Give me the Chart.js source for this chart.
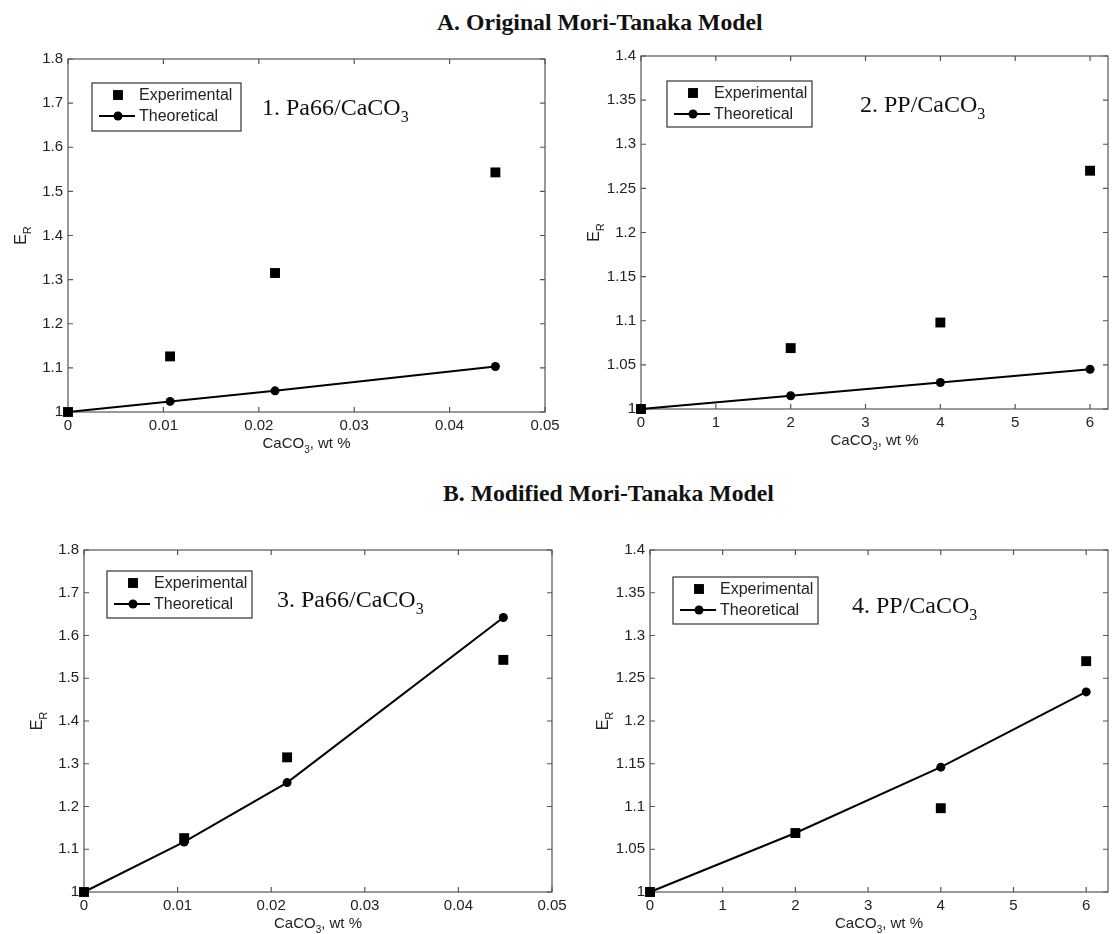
<!DOCTYPE html>
<html>
<head>
<meta charset="utf-8">
<script src="https://cdn.jsdelivr.net/npm/chart.js@4.4.1/dist/chart.umd.min.js"></script>
<style>
  html, body { margin: 0; padding: 0; background: #fff; overflow: hidden; width: 1115px; height: 934px; }
  .title { position: absolute; font-family: "Liberation Serif", "DejaVu Serif", serif; font-weight: bold; font-size: 23.7px; line-height: 24px; color: #111; white-space: nowrap; }
  canvas { position: absolute; }
</style>
</head>
<body>
<div class="title" style="left:437px; top:10px;">A. Original Mori-Tanaka Model</div>
<div class="title" style="left:443px; top:481px;">B. Modified Mori-Tanaka Model</div>
<canvas id="c1" width="557" height="413" style="left:8px; top:44px;"></canvas>
<canvas id="c2" width="534" height="413" style="left:581px; top:41px;"></canvas>
<canvas id="c3" width="548" height="402" style="left:24px; top:535px;"></canvas>
<canvas id="c4" width="525" height="402" style="left:590px; top:535px;"></canvas>
<script>
// du lieu doc tu hinh
const wtPa66 = [0, 0.0107, 0.0217, 0.0448];
const wtPP = [0, 2, 4, 6];
const expPa66 = [1.0, 1.126, 1.315, 1.543];
const expPP = [1.0, 1.069, 1.098, 1.270];
const theoOrigPa66 = [1.0, 1.024, 1.048, 1.103];
const theoOrigPP = [1.0, 1.015, 1.030, 1.045];
const theoModPa66 = [1.0, 1.117, 1.256, 1.642];
const theoModPP = [1.0, 1.069, 1.146, 1.234];

const xTicksPa66 = [0, 0.01, 0.02, 0.03, 0.04, 0.05];
const xTicksPP = [0, 1, 2, 3, 4, 5, 6];
const yTicksPa66 = [1, 1.1, 1.2, 1.3, 1.4, 1.5, 1.6, 1.7, 1.8];
const yTicksPP = [1, 1.05, 1.1, 1.15, 1.2, 1.25, 1.3, 1.35, 1.4];

const SANS = '"Liberation Sans", Arial, sans-serif';
const SERIF = '"Liberation Serif", "Times New Roman", serif';
const FRAME_COLOR = '#555';
const TEXT_COLOR = '#222';

// ve chuoi co chi so duoi (CaCO3, E_R)
function drawParts(ctx, parts, x, y, size, align) {
    const subSize = Math.round(size * 0.68);
    let total = 0;
    parts.forEach(p => {
        ctx.font = (p.sub ? subSize : size) + 'px ' + p.family;
        total += ctx.measureText(p.t).width;
    });
    let cx = align === 'center' ? x - total / 2 : x;
    ctx.textAlign = 'left';
    ctx.textBaseline = 'alphabetic';
    parts.forEach(p => {
        ctx.font = (p.sub ? subSize : size) + 'px ' + p.family;
        ctx.fillText(p.t, cx, y + (p.sub ? size * 0.3 : 0));
        cx += ctx.measureText(p.t).width;
    });
}

const framePlugin = {
    id: 'frame',
    beforeDatasetsDraw(chart) {
        const { ctx, chartArea: a, scales } = chart;
        ctx.save();
        ctx.strokeStyle = FRAME_COLOR;
        ctx.lineWidth = 1.2;
        ctx.strokeRect(a.left, a.top, a.right - a.left, a.bottom - a.top);
        // vach chia huong vao trong
        ctx.beginPath();
        scales.x.ticks.forEach(t => {
            const px = scales.x.getPixelForValue(t.value);
            ctx.moveTo(px, a.bottom); ctx.lineTo(px, a.bottom - 5);
            ctx.moveTo(px, a.top); ctx.lineTo(px, a.top + 5);
        });
        scales.y.ticks.forEach(t => {
            const py = scales.y.getPixelForValue(t.value);
            ctx.moveTo(a.left, py); ctx.lineTo(a.left + 5, py);
            ctx.moveTo(a.right, py); ctx.lineTo(a.right - 5, py);
        });
        ctx.stroke();
        ctx.restore();
    },
    afterDraw(chart, args, opts) {
        const { ctx, chartArea: a } = chart;
        ctx.save();
        ctx.fillStyle = TEXT_COLOR;
        // tieu de truc
        drawParts(ctx, [{ t: 'CaCO', family: SANS }, { t: '3', sub: true, family: SANS }, { t: ', wt %', family: SANS }],
            (a.left + a.right) / 2, a.bottom + 36, 15, 'center');
        ctx.save();
        ctx.translate(a.left - 42, (a.top + a.bottom) / 2);
        ctx.rotate(-Math.PI / 2);
        drawParts(ctx, [{ t: 'E', family: SANS }, { t: 'R', sub: true, family: SANS }], 0, 0, 16, 'center');
        ctx.restore();

        // chu thich trong vung ve
        const lg = opts.legend;
        const bx = a.left + lg.dx, by = a.top + lg.dy;
        ctx.fillStyle = '#fff';
        ctx.fillRect(bx, by, lg.w, lg.h);
        ctx.strokeStyle = '#333';
        ctx.lineWidth = 1.2;
        ctx.strokeRect(bx, by, lg.w, lg.h);
        chart.data.datasets.forEach((ds, i) => {
            const rowY = by + (i === 0 ? 12 : 33);
            ctx.fillStyle = '#000';
            ctx.strokeStyle = '#000';
            if (ds.showLine) {
                ctx.lineWidth = 2;
                ctx.beginPath();
                ctx.moveTo(bx + 7, rowY); ctx.lineTo(bx + 43, rowY);
                ctx.stroke();
            }
            Chart.helpers.drawPoint(ctx, { pointStyle: ds.pointStyle, radius: ds.pointRadius, borderWidth: 0 }, bx + 26, rowY);
            ctx.fillStyle = TEXT_COLOR;
            ctx.font = '16px ' + SANS;
            ctx.textAlign = 'left';
            ctx.textBaseline = 'middle';
            ctx.fillText(ds.label, bx + 47, rowY + 1);
        });

        // nhan ten mau
        const nt = opts.note;
        ctx.fillStyle = '#111';
        drawParts(ctx, [{ t: nt.text, family: SERIF }, { t: '3', sub: true, family: SERIF }],
            a.left + nt.dx, a.top + nt.dy, 24, 'left');
        ctx.restore();
    }
};

function makeChart(canvasId, xs, expVals, theoVals, xTicks, yTicks, xMax, padRight, noteText, legendPos, notePos) {
    const ctx = document.getElementById(canvasId).getContext('2d');
    const toPts = vals => vals.map((v, i) => ({ x: xs[i], y: v }));
    const fmt = v => String(+v.toFixed(3));
    return new Chart(ctx, {
        type: 'line',
        data: {
            datasets: [{
                label: 'Experimental',
                data: toPts(expVals),
                showLine: false,
                pointStyle: 'rect',
                pointRadius: 7,
                pointBorderWidth: 0,
                pointBackgroundColor: '#000',
                borderColor: '#000',
                clip: false
            }, {
                label: 'Theoretical',
                data: toPts(theoVals),
                showLine: true,
                pointStyle: 'circle',
                pointRadius: 4.5,
                pointBorderWidth: 0,
                pointBackgroundColor: '#000',
                borderColor: '#000',
                borderWidth: 2,
                tension: 0,
                clip: false
            }]
        },
        options: {
            responsive: false,
            animation: false,
            events: [],
            layout: { padding: { top: 15, right: padRight, left: 0, bottom: 0 } },
            scales: {
                x: {
                    type: 'linear',
                    min: 0,
                    max: xMax,
                    afterBuildTicks: s => { s.ticks = xTicks.map(v => ({ value: v })); },
                    afterFit: s => { s.height = 45; },
                    grid: { display: false, drawTicks: false },
                    border: { display: false },
                    ticks: { padding: 5, color: TEXT_COLOR, font: { family: SANS, size: 15 }, callback: fmt, maxRotation: 0 }
                },
                y: {
                    type: 'linear',
                    min: yTicks[0],
                    max: yTicks[yTicks.length - 1],
                    afterBuildTicks: s => { s.ticks = yTicks.map(v => ({ value: v })); },
                    afterFit: s => { s.width = 60; },
                    grid: { display: false, drawTicks: false },
                    border: { display: false },
                    ticks: { padding: 5, color: TEXT_COLOR, font: { family: SANS, size: 15 }, callback: fmt }
                }
            },
            plugins: {
                legend: { display: false },
                tooltip: { enabled: false },
                frame: { legend: legendPos, note: { text: noteText, dx: notePos[0], dy: notePos[1] } }
            }
        },
        plugins: [framePlugin]
    });
}

makeChart('c1', wtPa66, expPa66, theoOrigPa66, xTicksPa66, yTicksPa66, 0.05, 20, '1. Pa66/CaCO',
    { dx: 24, dy: 24, w: 149, h: 48 }, [194, 56]);
makeChart('c2', wtPP, expPP, theoOrigPP, xTicksPP, yTicksPP, 6.24, 1, '2. PP/CaCO',
    { dx: 26, dy: 25, w: 145, h: 46 }, [219, 56]);
makeChart('c3', wtPa66, expPa66, theoModPa66, xTicksPa66, yTicksPa66, 0.05, 20, '3. Pa66/CaCO',
    { dx: 23, dy: 21, w: 145, h: 47 }, [193, 57]);
makeChart('c4', wtPP, expPP, theoModPP, xTicksPP, yTicksPP, 6.3, 2, '4. PP/CaCO',
    { dx: 23, dy: 27, w: 145, h: 47 }, [202, 63]);
</script>
</body>
</html>
